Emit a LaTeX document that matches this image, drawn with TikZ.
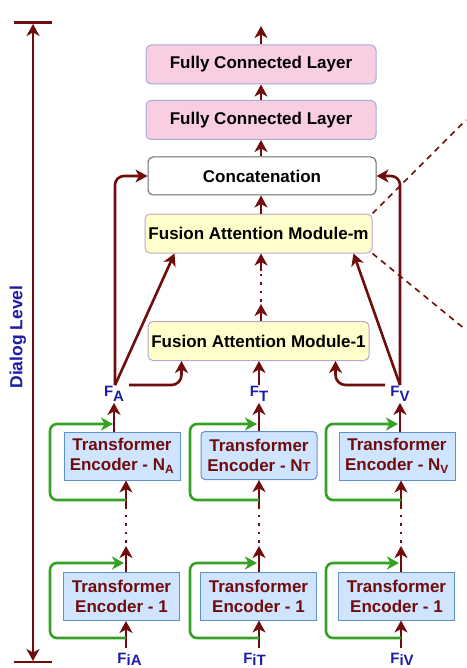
\documentclass[tikz,border=0pt]{standalone}
\usepackage{fontspec}
\setmainfont{Liberation Sans}
\usetikzlibrary{arrows.meta}
\definecolor{maroon}{RGB}{112,12,12}
\definecolor{lblblue}{RGB}{28,28,168}
\definecolor{skipgreen}{RGB}{52,160,36}
\definecolor{fcpink}{RGB}{250,206,226}
\definecolor{fcline}{RGB}{160,172,212}
\definecolor{famfill}{RGB}{255,255,204}
\definecolor{famline}{RGB}{185,165,205}
\definecolor{encfill}{RGB}{206,228,255}
\definecolor{encline}{RGB}{95,145,210}

\tikzset{
  boxfont/.style={font=\bfseries\fontsize{17}{20}\selectfont},
  fcbox/.style={boxfont, draw=fcline, fill=fcpink, line width=1pt, rounded corners=5pt, minimum width=230, minimum height=39, inner sep=0pt},
  catbox/.style={boxfont, draw=black!60, fill=white, line width=1pt, rounded corners=5pt, minimum width=228, minimum height=38, inner sep=0pt},
  fambox/.style={boxfont, draw=famline, fill=famfill, line width=1pt, rounded corners=5pt, minimum width=227, minimum height=39, inner sep=0pt},
  encbox/.style={boxfont, text=maroon, align=center, draw=encline, fill=encfill, line width=1pt, minimum width=116, minimum height=48, inner sep=0pt},
  featlbl/.style={font=\bfseries\fontsize{15}{15}\selectfont, text=lblblue, inner sep=1pt},
  flow/.style={draw=maroon, line width=2.6pt, -{Stealth[length=12pt,width=13pt,inset=3.5pt]}},
  skip/.style={draw=skipgreen, line width=2.6pt, rounded corners=7pt, -{Stealth[length=12pt,width=13pt,inset=3.5pt]}},
  dotline/.style={draw=maroon, line width=2.6pt, dash pattern=on 2.4pt off 6pt},
  zoomline/.style={draw=maroon, line width=1.6pt, dash pattern=on 6pt off 5pt}
}

\begin{document}
\begin{tikzpicture}[x=1pt, y=-1pt]
\useasboundingbox (0,0) rectangle (466,668);

% dialog level axis
\coordinate (dtop) at (33,24);
\coordinate (dbot) at (33,661);
\draw[flow, {Stealth[length=12pt,width=13pt,inset=3.5pt]}-{Stealth[length=12pt,width=13pt,inset=3.5pt]}] (dbot) -- (dtop);
\draw[maroon, line width=2.4pt] (14,22.5) -- (52,22.5);
\draw[maroon, line width=2.4pt] (14,662) -- (52,662);
\node[rotate=90, text=lblblue, font=\bfseries\fontsize{17.5}{20}\selectfont] (dlabel) at (18,337) {Dialog Level};

% dialog level blocks
\node[fcbox] (fc2) at (261,64.5) {Fully Connected Layer};
\node[fcbox] (fc1) at (261,120) {Fully Connected Layer};
\node[catbox] (concat) at (262,176) {Concatenation};
\node[fambox] (famm) at (258.5,233.5) {Fusion Attention Module-m};
\node[fambox, minimum width=221] (fam1) at (258.5,341) {Fusion Attention Module-1};

\node[featlbl] (fa) at (114,394) {F\raisebox{-5pt}{A}};
\node[featlbl] (ft) at (259,394) {F\raisebox{-5pt}{T}};
\node[featlbl] (fv) at (400,394) {F\raisebox{-5pt}{V}};

\coordinate (out) at (261,26);
\draw[flow] (fc2.north) -- (out);
\draw[flow] (fc1.north) -- (fc2.south);
\draw[flow] (concat.north -| fc1) -- (fc1.south);
\draw[flow] (famm.north -| fc1) -- (concat.south -| fc1);

\coordinate (famup) at (261,304);
\coordinate (famdn) at (261,271);
\draw[flow] (fam1.north -| famup) -- (famup);
\draw[dotline] ([yshift=-6pt]famup) -- ([yshift=4pt]famdn);
\draw[flow] (famdn) -- (famm.south -| famdn);

\draw[flow] (ft.north) -- (fam1.south -| ft);
\draw[flow, rounded corners=9pt] ([xshift=1pt]fa.north) |- (concat.west);
\draw[flow, rounded corners=9pt] (fv.north) |- (concat.east);
\draw[flow] ([xshift=1pt]fa.north) -- ([xshift=30pt]famm.south west);
\draw[flow] (fv.north) -- ([xshift=-19pt]famm.south east);
\draw[flow, rounded corners=10pt] ([xshift=4pt,yshift=9pt]fa.east) -| ([xshift=34pt]fam1.south west);
\draw[flow, rounded corners=10pt] ([xshift=-4pt,yshift=9pt]fv.west) -| ([xshift=-34pt]fam1.south east);

\coordinate (zoomtop) at (466,120);
\coordinate (zoombot) at (466,330);
\draw[zoomline] (famm.north east) -- (zoomtop);
\draw[zoomline] (famm.south east) -- (zoombot);

% utterance level encoders
\node[encbox] (encna) at (122,456) {Transformer\\Encoder - N\textsubscript{A}};
\node[encbox, rounded corners=4pt] (encnt) at (259,455.5) {Transformer\\Encoder - N{\fontsize{13}{13}\selectfont T}};
\node[encbox] (encnv) at (397,456) {Transformer\\Encoder - N\textsubscript{V}};
\node[encbox] (enc1a) at (121.5,596.5) {Transformer\\Encoder - 1};
\node[encbox] (enc1t) at (258.5,596) {Transformer\\Encoder - 1};
\node[encbox] (enc1v) at (396.5,596) {Transformer\\Encoder - 1};

\node[featlbl, anchor=base] (fia) at (129.5,663.5) {F\raisebox{-2pt}{iA}};
\node[featlbl, anchor=base] (fit) at (254.5,663.5) {F\raisebox{-2pt}{iT}};
\node[featlbl, anchor=base] (fiv) at (402,663.5) {F\raisebox{-2pt}{iV}};

% audio column
\coordinate (ina) at (126,648);
\coordinate (upa) at (126,546);
\coordinate (dna) at (126,509);
\draw[flow] (ina) -- (enc1a.south -| ina);
\draw[skip] (ina |- 0,638) -- (50,638) -- (50,563) -- (124,563);
\draw[flow] (enc1a.north -| ina) -- (upa);
\draw[dotline] ([yshift=-5pt]upa) -- ([yshift=5pt]dna);
\draw[flow] (dna) -- (encna.south -| dna);
\draw[skip] (dna |- 0,500) -- (50,500) -- (50,424) -- (113,424);
\draw[flow] (encna.north -| fa) -- (fa.south);

% text column
\coordinate (int) at (259,648);
\coordinate (upt) at (259,546);
\coordinate (dnt) at (259,509);
\draw[flow] (int) -- (enc1t.south -| int);
\draw[skip] (int |- 0,638) -- (190,638) -- (190,563) -- (257,563);
\draw[flow] (enc1t.north -| int) -- (upt);
\draw[dotline] ([yshift=-5pt]upt) -- ([yshift=5pt]dnt);
\draw[flow] (dnt) -- (encnt.south -| dnt);
\draw[skip] (dnt |- 0,500) -- (190,500) -- (190,424) -- (257,424);
\draw[flow] (encnt.north -| ft) -- (ft.south);

% visual column
\coordinate (inv) at (401,648);
\coordinate (upv) at (401,546);
\coordinate (dnv) at (401,509);
\draw[flow] (inv) -- (enc1v.south -| inv);
\draw[skip] (inv |- 0,638) -- (326,638) -- (326,563) -- (399,563);
\draw[flow] (enc1v.north -| inv) -- (upv);
\draw[dotline] ([yshift=-5pt]upv) -- ([yshift=5pt]dnv);
\draw[flow] (dnv) -- (encnv.south -| dnv);
\draw[skip] (dnv |- 0,500) -- (326,500) -- (326,424) -- (398,424);
\draw[flow] (encnv.north -| fv) -- (fv.south);
\end{tikzpicture}
\end{document}
